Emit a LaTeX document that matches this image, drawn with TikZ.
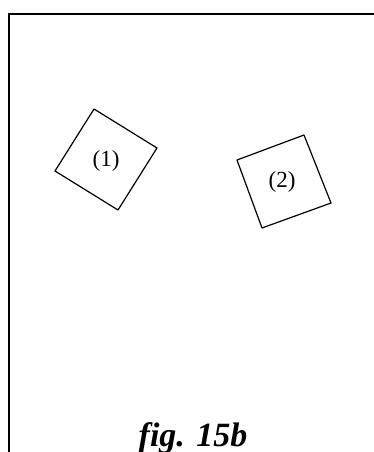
\documentclass[tikz,border=0pt]{standalone}
\usepackage{fontspec}
\setmainfont{Liberation Serif}

\begin{document}
\begin{tikzpicture}[x=1pt, y=-1pt, line width=1.2pt,
    block/.style={line join=round},
    tag/.style={font=\fontsize{23}{26}\selectfont, inner sep=0pt}]
\useasboundingbox (0,0) rectangle (374,452);

% Frame
\draw[line width=2pt] (9,452) -- (9,14) -- (374,14);

% Block (1)
\coordinate (a1) at (55,171);
\coordinate (b1) at (94,109);
\coordinate (c1) at (157,148);
\coordinate (d1) at (118,210);
\draw[block] (a1) -- (b1) -- (c1) -- (d1) -- cycle;
\node[tag] (t1) at (106,161) {(1)};

% Block (2)
\coordinate (a2) at (237,160);
\coordinate (b2) at (304,135);
\coordinate (c2) at (331,203);
\coordinate (d2) at (262,228);
\draw[block] (a2) -- (b2) -- (c2) -- (d2) -- cycle;
\node[tag] (t2) at (282,182) {(2)};

% Caption
\node[anchor=base, inner sep=0pt, font=\fontsize{34}{40}\selectfont\bfseries\itshape] (cap) at (193,446) {fig. 15b};
\end{tikzpicture}
\end{document}
